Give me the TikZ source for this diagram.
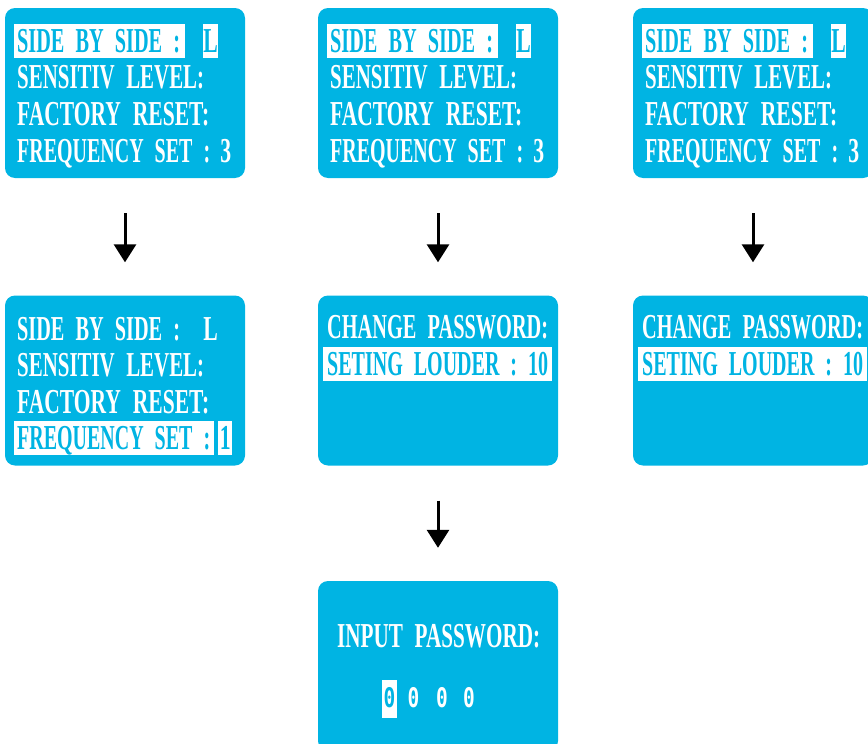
\documentclass[tikz,border=0pt]{standalone}
\usepackage{fontspec}
\usetikzlibrary{arrows.meta,calc}
\newfontfamily\lcdserif[WordSpace=2.2]{Liberation Serif}
\newfontfamily\lcdmono{DejaVu Sans Mono}
\definecolor{lcdblue}{HTML}{00B4E3}
\newcommand\fitto[2]{\setbox0\hbox{#2}\pgfmathsetmacro\fitratio{#1/\the\wd0}\scalebox{\fitratio}[1]{\box0}}
\newcommand\nar[1]{\scalebox{0.62}[1]{#1}}
\tikzset{
  box/.style={fill=lcdblue, rounded corners=10pt, inner sep=0pt, minimum width=240pt, minimum height=170pt},
  txt/.style={font=\lcdserif\bfseries\fontsize{35pt}{35pt}\selectfont, text=white, inner sep=0pt, anchor=base west},
  hl/.style={txt, fill=white, text=lcdblue, inner xsep=3pt, text height=28pt, text depth=6pt},
  valbox/.style={hl, inner xsep=0pt, minimum width=15pt},
  valtxt/.style={txt, minimum width=15pt},
  dig/.style={font=\lcdmono\bfseries\fontsize{27pt}{27pt}\selectfont, text=white, inner sep=0pt, anchor=base},
  dighl/.style={dig, fill=white, text=lcdblue, text height=27pt, text depth=11pt, minimum width=15pt},
  arr/.style={line width=3pt, -{Triangle[width=22pt,length=18pt]}, shorten <=35pt, shorten >=33pt},
}
\begin{document}
\begin{tikzpicture}[x=1pt,y=-1pt]
\useasboundingbox (0,0) rectangle (868,744);
% boxes
\node[box] (a1) at (125,93) {};
\node[box] (a2) at (438,93) {};
\node[box] (a3) at (753,93) {};
\node[box] (b1) at (125,380.5) {};
\node[box] (b2) at (438,380.5) {};
\node[box] (b3) at (753,380.5) {};
\node[box] (c2) at (438,666) {};
% top row menus
\foreach \L/\n in {5/1,318/2,633/3}{
  \node[hl] (a\n l1) at (\L+9,52) {\makebox[165pt][l]{\fitto{163}{SIDE BY SIDE :}}};
  \node[valbox] (a\n v1) at (\L+198,52) {\nar{L}};
  \node[txt] (a\n l2) at (\L+12,88) {\fitto{187}{SENSITIV LEVEL:}};
  \node[txt] (a\n l3) at (\L+12,125) {\fitto{192}{FACTORY RESET:}};
  \node[txt] (a\n l4) at (\L+12,162) {\fitto{193}{FREQUENCY SET :}};
  \node[valtxt] (a\n v4) at (\L+213,162) {\nar{3}};
}
% b1
\node[txt] (b1l1) at (17,340) {\fitto{163}{SIDE BY SIDE :}};
\node[valtxt] (b1v1) at (203,340) {\nar{L}};
\node[txt] (b1l2) at (17,376) {\fitto{187}{SENSITIV LEVEL:}};
\node[txt] (b1l3) at (17,413) {\fitto{192}{FACTORY RESET:}};
\node[hl] (b1l4) at (14,449) {\makebox[194pt][l]{\fitto{193}{FREQUENCY SET :}}};
\node[valbox, minimum width=14pt] (b1v4) at (218,449) {\nar{1}};
% b2, b3
\foreach \L/\n in {318/2,633/3}{
  \node[txt] (b\n l1) at (\L+9,338) {\fitto{221}{CHANGE PASSWORD:}};
  \node[hl, inner xsep=4pt] (b\n l2) at (\L+5,375) {\makebox[221pt][l]{\fitto{221}{SETING LOUDER : 10}}};
}
% c2
\node[txt] (c2l1) at (337,647) {\fitto{203}{INPUT PASSWORD:}};
\node[dighl] (d1) at (389.5,707) {\scalebox{0.72}[1]{0}};
\node[dig] (d2) at (413.5,707) {\scalebox{0.72}[1]{0}};
\node[dig] (d3) at (442,707) {\scalebox{0.72}[1]{0}};
\node[dig] (d4) at (469,707) {\scalebox{0.72}[1]{0}};
% arrows
\draw[arr] (a1) -- (b1);
\draw[arr] (a2) -- (b2);
\draw[arr] (a3) -- (b3);
\draw[arr] (b2) -- (c2);
\end{tikzpicture}
\end{document}
